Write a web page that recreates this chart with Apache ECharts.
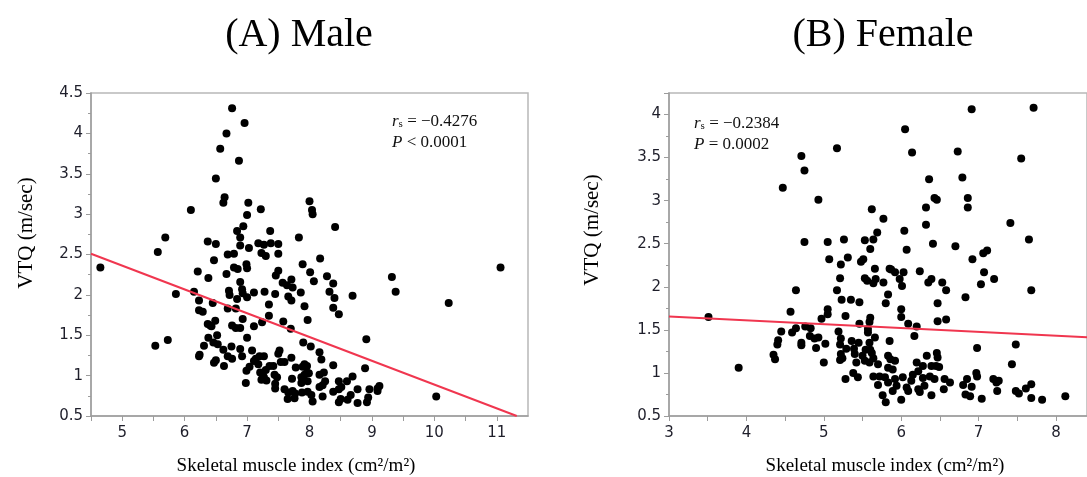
<!DOCTYPE html>
<html><head><meta charset="utf-8">
<script src="https://cdn.jsdelivr.net/npm/echarts@6/dist/echarts.min.js"></script>
<style>html,body{margin:0;padding:0;background:#fff}#c{width:1087px;height:477px}</style>
</head><body><div id="c"></div>
<script>
// ---- Data ----
const maleX = [4.65,5.53,5.73,5.57,5.69,5.86,6.10,6.15,6.21,6.37,6.38,6.23,6.23,6.29,6.37,6.43,6.45,6.50,6.47,6.50,6.57,6.67,6.76,6.96,6.87,6.64,6.62,7.02,7.00,6.94,6.84,6.89,6.89,6.79,6.69,7.03,6.67,6.79,6.85,6.99,7.00,6.89,6.71,6.72,6.92,6.93,6.84,7.00,7.11,6.69,6.82,6.93,6.76,6.82,6.89,7.11,7.00,7.18,7.22,7.27,7.23,7.30,7.37,7.38,7.50,7.50,7.50,7.46,7.57,7.64,7.71,7.73,7.66,7.71,7.45,7.28,7.35,7.35,7.24,7.58,7.70,7.83,8.00,8.04,8.05,7.89,8.01,8.07,7.86,7.92,7.97,8.17,8.28,8.38,8.32,8.40,8.38,8.47,8.41,8.69,8.91,9.32,9.38,10.23,11.06,10.03,8.89,
6.31,6.24,6.23,6.38,6.52,6.46,6.53,6.49,6.41,6.47,6.50,6.62,6.63,6.75,6.69,6.76,6.89,6.92,6.98,6.99,7.04,7.11,7.08,7.14,7.18,7.20,7.27,7.21,7.23,7.27,7.30,7.31,7.25,7.36,7.42,7.44,7.48,7.45,7.45,7.50,7.52,7.54,7.60,7.60,7.65,7.71,7.72,7.73,7.66,7.77,7.76,7.78,7.89,7.92,7.96,7.92,7.96,7.87,7.99,7.97,7.87,7.88,7.97,8.03,8.05,8.02,7.90,8.16,8.19,8.16,8.23,8.16,8.21,8.25,8.21,8.38,8.38,8.47,8.47,8.51,8.50,8.47,8.60,8.66,8.61,8.69,8.77,8.77,8.92,8.94,8.96,9.09,9.12,9.09];
const maleY = [2.34,1.37,1.44,2.53,2.71,2.01,3.05,2.04,2.29,2.66,2.21,1.93,1.81,1.79,1.64,1.61,1.90,2.63,2.43,3.44,3.81,4.00,4.31,4.13,3.66,3.21,3.14,3.14,2.99,2.85,2.79,2.71,2.61,2.51,2.50,2.58,2.26,2.34,2.32,2.38,2.33,2.16,2.05,2.00,2.07,2.02,1.95,1.97,2.03,1.83,1.83,1.70,1.62,1.59,1.59,1.61,1.47,2.64,3.06,2.62,2.52,2.48,2.79,2.64,2.63,2.51,2.30,2.24,2.15,2.12,2.19,2.09,1.98,1.93,2.01,2.04,1.88,1.74,1.66,1.67,1.58,2.71,3.16,3.05,3.00,2.38,2.28,2.17,2.03,1.86,1.69,2.45,2.23,2.14,2.04,1.96,1.84,1.76,2.84,1.99,1.45,2.22,2.04,1.90,2.34,0.74,1.09,
1.37,1.26,1.24,1.47,1.50,1.41,1.39,1.68,1.62,1.16,1.19,1.32,1.12,1.36,1.24,1.21,1.33,1.24,0.91,1.06,1.11,1.18,1.31,1.21,1.14,1.24,1.24,1.04,0.95,0.98,1.07,0.94,1.01,1.12,1.12,1.01,0.98,0.90,0.84,1.27,1.31,1.17,1.17,0.83,0.71,1.22,0.96,0.81,0.79,0.78,0.72,1.10,1.11,1.14,1.12,1.01,1.04,0.98,1.03,0.93,0.91,0.79,0.80,0.76,0.68,1.36,1.41,1.29,1.20,1.01,1.04,0.86,0.88,0.93,0.74,1.13,0.80,0.93,0.83,0.86,0.71,0.67,0.93,0.76,0.70,0.99,0.83,0.66,0.67,0.73,0.83,0.84,0.87,0.81];
const femaleX = [3.51,3.90,4.35,4.37,4.40,4.41,4.45,4.47,4.57,4.59,4.64,4.64,4.71,4.71,4.71,4.75,4.75,4.76,4.83,4.82,4.88,4.93,4.90,4.93,4.97,5.02,5.00,5.05,5.05,5.05,5.07,5.17,5.17,5.21,5.22,5.19,5.22,5.21,5.23,5.26,5.28,5.31,5.29,5.22,5.24,5.21,5.28,5.35,5.36,5.38,5.44,5.39,5.40,5.42,5.45,5.46,5.46,5.48,5.51,5.53,5.53,5.56,5.54,5.53,5.50,5.57,5.57,5.59,5.60,5.60,5.62,5.64,5.66,5.64,5.67,5.59,5.60,5.62,5.64,5.59,5.66,5.69,5.70,5.64,5.72,5.70,5.76,5.80,5.77,5.77,5.80,5.83,5.85,5.87,5.92,5.85,5.83,5.86,5.92,5.83,5.89,5.79,5.92,5.83,5.89,5.94,5.98,6.01,6.03,6.00,6.00,6.04,6.07,6.05,6.14,6.09,6.17,6.20,6.00,6.02,6.07,6.09,6.13,6.15,6.20,6.22,6.24,6.22,6.24,6.28,6.28,6.30,6.33,6.32,6.32,6.36,6.35,6.39,6.39,6.37,6.39,6.41,6.43,6.46,6.47,6.47,6.46,6.47,6.45,6.49,6.43,6.53,6.58,6.56,6.55,6.63,6.58,6.70,6.73,6.79,6.80,6.83,6.85,6.86,6.86,6.83,6.89,6.91,6.92,6.91,6.98,6.97,6.98,7.03,7.04,7.06,7.07,7.11,7.20,7.19,7.24,7.26,7.23,7.41,7.43,7.48,7.48,7.52,7.55,7.61,7.65,7.68,7.68,7.68,7.71,7.82,8.12];
const femaleY = [1.65,1.06,1.21,1.16,1.33,1.38,1.48,3.15,1.71,1.47,1.96,1.52,1.35,1.32,3.52,3.35,2.52,1.54,1.52,1.43,1.40,1.41,1.29,3.01,1.63,1.34,1.12,2.52,1.74,1.68,2.32,3.61,1.96,2.10,2.26,1.48,1.40,1.33,1.85,2.55,1.66,2.34,1.28,1.22,1.17,1.15,0.93,1.85,1.37,1.00,0.95,1.28,1.22,1.12,1.35,1.82,1.57,2.29,2.32,2.54,2.10,2.07,1.27,1.14,1.20,1.47,1.51,1.59,1.64,2.44,2.90,2.55,2.21,2.04,2.09,1.35,1.27,1.23,1.17,1.12,1.41,2.63,1.10,0.96,0.96,0.86,0.74,0.66,2.79,2.05,1.81,1.91,2.21,2.20,2.17,1.37,1.20,1.16,1.14,1.06,1.04,0.95,0.93,0.89,0.79,0.85,2.09,2.01,2.17,1.74,1.65,2.65,2.43,3.83,3.56,1.57,1.43,1.54,0.69,0.95,0.83,0.79,0.91,0.98,1.12,1.02,2.18,0.81,0.78,1.08,0.94,0.85,1.20,2.92,2.72,3.25,2.05,2.09,1.08,0.96,0.74,2.50,3.03,3.01,1.81,1.60,1.23,1.18,1.08,1.07,0.93,2.05,1.96,0.93,0.81,0.89,1.62,2.47,3.57,3.27,0.86,1.88,0.93,3.03,2.92,0.75,0.73,4.06,2.32,0.84,1.29,1.00,0.96,2.03,0.70,2.39,2.17,2.42,2.09,0.93,0.79,0.91,0.89,2.74,1.10,1.33,0.79,0.76,3.49,0.82,2.55,1.96,0.87,0.71,4.08,0.69,0.73];
// fitted regression lines (endpoints)
const maleFitX = [4.5, 11.32];
const maleFitY = [2.51, 0.5];
const femaleFitX = [3.0, 8.4];
const femaleFitY = [1.656, 1.414];
// labels
const titles = ['(A) Male', '(B) Female'];
const xTitle = 'Skeletal muscle index (cm²/m²)';
const yTitle = 'VTQ (m/sec)';
const maleStats = ['−0.4276', '< 0.0001'];
const femaleStats = ['−0.2384', '= 0.0002'];

const zip = (a, b) => a.map((v, i) => [v, b[i]]);

const axisGray = '#9c9c9c';
const serif = '"Liberation Serif","Times New Roman",serif';

function xAxis(gi, min, max) {
  return {
    gridIndex: gi, type: 'value', min: min, max: max, interval: 0.5,
    axisLine: { show: true, onZero: false, lineStyle: { color: axisGray, width: 1.5 } },
    axisTick: { show: true, length: 5, lineStyle: { color: axisGray, width: 1 } },
    axisLabel: { color: '#1e1e2a', fontFamily: 'DejaVu Sans', fontSize: 15, margin: 10,
      showMaxLabel: false,
      formatter: v => (Math.abs(v - Math.round(v)) < 1e-9 ? String(Math.round(v)) : '') },
    splitLine: { show: false }
  };
}
function yAxis(gi, min, max) {
  return {
    gridIndex: gi, type: 'value', min: min, max: max, interval: 0.5,
    axisLine: { show: true, onZero: false, lineStyle: { color: axisGray, width: 1.5 } },
    axisTick: { show: true, length: 5, lineStyle: { color: axisGray, width: 1 } },
    minorTick: { show: true, splitNumber: 2, length: 3, lineStyle: { color: axisGray } },
    axisLabel: { color: '#1e1e2a', fontFamily: 'DejaVu Sans', fontSize: 15, margin: 8,
      showMaxLabel: max === 4.5,
      formatter: v => String(Math.round(v * 100) / 100) },
    splitLine: { show: false }
  };
}

function statText(x, y, val, isP) {
  if (!isP) {
    return { type: 'text', x: x, y: y,
      style: { text: '{r|r}{s|s}{n| = ' + val + '}',
        rich: {
          r: { fontFamily: serif, fontSize: 17, fontStyle: 'italic', fill: '#111', verticalAlign: 'bottom', lineHeight: 20 },
          s: { fontFamily: serif, fontSize: 11, fill: '#111', verticalAlign: 'bottom', lineHeight: 12 },
          n: { fontFamily: serif, fontSize: 17, fill: '#111', verticalAlign: 'bottom', lineHeight: 20 }
        },
        align: 'left', verticalAlign: 'middle', textAlign: 'left', textVerticalAlign: 'middle' } };
  }
  return { type: 'text', x: x, y: y,
    style: { text: '{p|P}{n| ' + val + '}',
      rich: {
        p: { fontFamily: serif, fontSize: 17, fontStyle: 'italic', fill: '#111' },
        n: { fontFamily: serif, fontSize: 17, fill: '#111' }
      },
      align: 'left', verticalAlign: 'middle', textAlign: 'left', textVerticalAlign: 'middle' } };
}

function plainText(x, y, text, size, rot) {
  return { type: 'text', x: x, y: y, rotation: rot || 0,
    style: { text: text, fontFamily: serif, fontSize: size, fill: '#000',
      align: 'center', verticalAlign: 'middle', textAlign: 'center', textVerticalAlign: 'middle' } };
}

const chart = echarts.init(document.getElementById('c'), null, { renderer: 'canvas' });
chart.setOption({
  animation: false,
  backgroundColor: '#fff',
  grid: [
    { left: 91, top: 93, width: 437, height: 323, show: true, borderColor: '#b8b8b8', borderWidth: 1.5, backgroundColor: 'transparent' },
    { left: 669, top: 93, width: 422, height: 323, show: true, borderColor: '#b8b8b8', borderWidth: 1.5, backgroundColor: 'transparent' }
  ],
  xAxis: [xAxis(0, 4.5, 11.5), xAxis(1, 3, 8.4)],
  yAxis: [yAxis(0, 0.5, 4.5), yAxis(1, 0.5, 4.25)],
  series: [
    { type: 'scatter', xAxisIndex: 0, yAxisIndex: 0, data: zip(maleX, maleY), symbolSize: 8,
      itemStyle: { color: '#000', opacity: 1 }, z: 3 },
    { type: 'line', xAxisIndex: 0, yAxisIndex: 0, data: zip(maleFitX, maleFitY), symbol: 'none',
      lineStyle: { color: '#f0364f', width: 2 }, z: 4 },
    { type: 'scatter', xAxisIndex: 1, yAxisIndex: 1, data: zip(femaleX, femaleY), symbolSize: 8,
      itemStyle: { color: '#000', opacity: 1 }, z: 3 },
    { type: 'line', xAxisIndex: 1, yAxisIndex: 1, data: zip(femaleFitX, femaleFitY), symbol: 'none',
      lineStyle: { color: '#f0364f', width: 2 }, z: 4 }
  ],
  graphic: [
    plainText(299, 35, titles[0], 40),
    plainText(883, 35, titles[1], 40),
    plainText(296, 466, xTitle, 19),
    plainText(885, 466, xTitle, 19),
    plainText(26, 233, yTitle, 21, Math.PI / 2),
    plainText(592, 230, yTitle, 21, Math.PI / 2),
    statText(392, 120, maleStats[0], false),
    statText(392, 143, maleStats[1], true),
    statText(694, 122, femaleStats[0], false),
    statText(694, 145, femaleStats[1], true)
  ]
});
</script>
</body></html>
